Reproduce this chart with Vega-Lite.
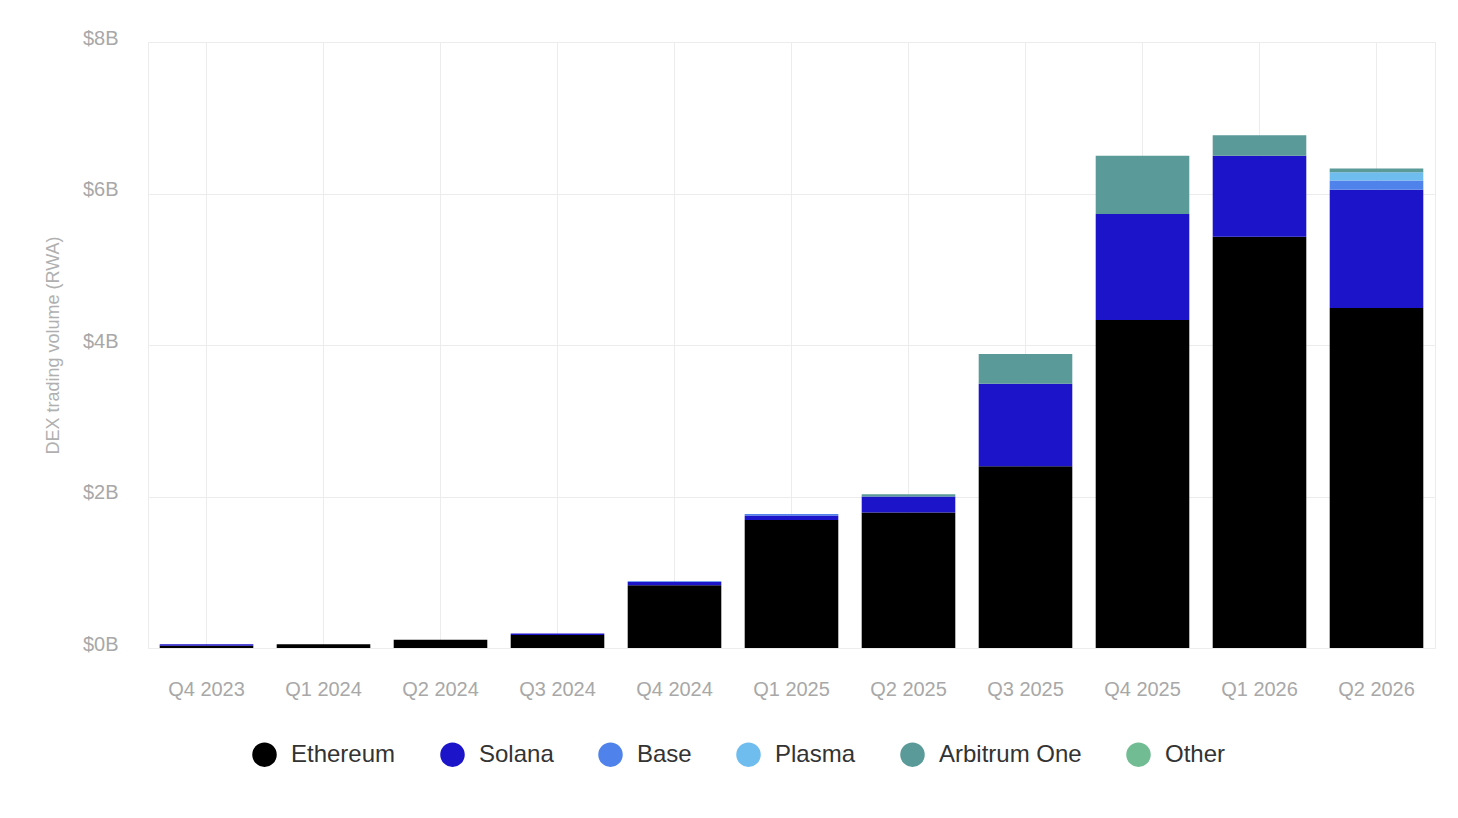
{
  "$schema": "https://vega.github.io/schema/vega-lite/v6.json",
  "autosize": "none",
  "padding": {"left": 148, "top": 42, "right": 23, "bottom": 170},
  "width": 1287,
  "height": 606,
  "background": "#ffffff",
  "config": {
    "font": "Liberation Sans",
    "view": {"stroke": "#ececec"},
    "axis": {"gridColor": "#ececec", "domain": false, "ticks": false}
  },
  "data": {
    "values": [
      {"quarter": "Q4 2023", "chain": "Ethereum", "ord": 0, "volume": 0.03},
      {"quarter": "Q4 2023", "chain": "Solana", "ord": 1, "volume": 0.02},
      {"quarter": "Q1 2024", "chain": "Ethereum", "ord": 0, "volume": 0.05},
      {"quarter": "Q2 2024", "chain": "Ethereum", "ord": 0, "volume": 0.11},
      {"quarter": "Q3 2024", "chain": "Ethereum", "ord": 0, "volume": 0.17},
      {"quarter": "Q3 2024", "chain": "Solana", "ord": 1, "volume": 0.02},
      {"quarter": "Q4 2024", "chain": "Ethereum", "ord": 0, "volume": 0.83},
      {"quarter": "Q4 2024", "chain": "Solana", "ord": 1, "volume": 0.04},
      {"quarter": "Q4 2024", "chain": "Base", "ord": 2, "volume": 0.01},
      {"quarter": "Q1 2025", "chain": "Ethereum", "ord": 0, "volume": 1.69},
      {"quarter": "Q1 2025", "chain": "Solana", "ord": 1, "volume": 0.06},
      {"quarter": "Q1 2025", "chain": "Base", "ord": 2, "volume": 0.02},
      {"quarter": "Q2 2025", "chain": "Ethereum", "ord": 0, "volume": 1.79},
      {"quarter": "Q2 2025", "chain": "Solana", "ord": 1, "volume": 0.21},
      {"quarter": "Q2 2025", "chain": "Arbitrum One", "ord": 4, "volume": 0.03},
      {"quarter": "Q3 2025", "chain": "Ethereum", "ord": 0, "volume": 2.40},
      {"quarter": "Q3 2025", "chain": "Solana", "ord": 1, "volume": 1.09},
      {"quarter": "Q3 2025", "chain": "Arbitrum One", "ord": 4, "volume": 0.39},
      {"quarter": "Q4 2025", "chain": "Ethereum", "ord": 0, "volume": 4.33},
      {"quarter": "Q4 2025", "chain": "Solana", "ord": 1, "volume": 1.40},
      {"quarter": "Q4 2025", "chain": "Arbitrum One", "ord": 4, "volume": 0.77},
      {"quarter": "Q1 2026", "chain": "Ethereum", "ord": 0, "volume": 5.43},
      {"quarter": "Q1 2026", "chain": "Solana", "ord": 1, "volume": 1.07},
      {"quarter": "Q1 2026", "chain": "Arbitrum One", "ord": 4, "volume": 0.27},
      {"quarter": "Q2 2026", "chain": "Ethereum", "ord": 0, "volume": 4.49},
      {"quarter": "Q2 2026", "chain": "Solana", "ord": 1, "volume": 1.56},
      {"quarter": "Q2 2026", "chain": "Base", "ord": 2, "volume": 0.12},
      {"quarter": "Q2 2026", "chain": "Plasma", "ord": 3, "volume": 0.11},
      {"quarter": "Q2 2026", "chain": "Arbitrum One", "ord": 4, "volume": 0.05}
    ]
  },
  "mark": {"type": "bar", "strokeWidth": 0},
  "encoding": {
    "x": {
      "field": "quarter",
      "type": "ordinal",
      "sort": null,
      "scale": {"paddingInner": 0.2, "paddingOuter": 0.1},
      "axis": {
        "title": null,
        "grid": true,
        "labelAngle": 0,
        "labelFontSize": 20,
        "labelColor": "#a8a8a8",
        "labelPadding": 31
      }
    },
    "y": {
      "field": "volume",
      "type": "quantitative",
      "stack": "zero",
      "scale": {"domain": [0, 8], "nice": false},
      "axis": {
        "title": "DEX trading volume (RWA)",
        "titleFontSize": 18,
        "titleFontWeight": "normal",
        "titleColor": "#b0b0b0",
        "titlePadding": 20,
        "values": [0, 2, 4, 6, 8],
        "labelExpr": "'$' + datum.value + 'B'",
        "labelFontSize": 20,
        "labelColor": "#a8a8a8",
        "labelPadding": 30,
        "labelOffset": -4
      }
    },
    "color": {
      "field": "chain",
      "type": "nominal",
      "scale": {
        "domain": ["Ethereum", "Solana", "Base", "Plasma", "Arbitrum One", "Other"],
        "range": ["#000000", "#1c14c8", "#4f82ea", "#6fbcef", "#5a9a98", "#72bc94"]
      },
      "legend": {
        "title": null,
        "orient": "none",
        "direction": "horizontal",
        "legendX": 104,
        "legendY": 700,
        "padding": 0,
        "symbolType": "circle",
        "symbolSize": 600,
        "symbolStrokeWidth": 0,
        "labelFontSize": 24,
        "labelColor": "#333333",
        "labelOffset": 14,
        "columnPadding": 44
      }
    },
    "order": {"field": "ord", "type": "quantitative", "sort": "ascending"}
  }
}
